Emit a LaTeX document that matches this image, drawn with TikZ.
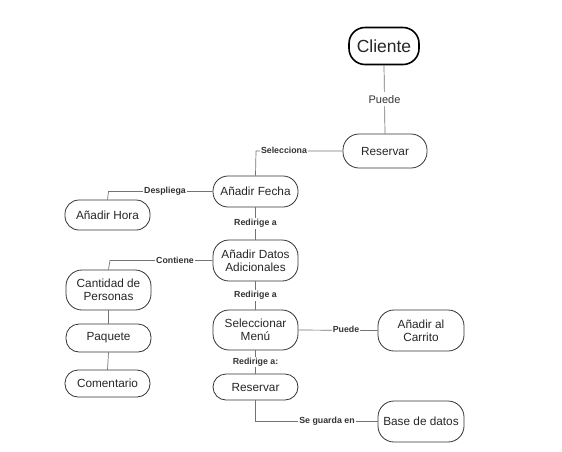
\documentclass[tikz,border=0pt]{standalone}
\usepackage{fontspec}
\setmainfont{Liberation Sans}
\begin{document}
\begin{tikzpicture}[x=1pt,y=-1pt,
  box/.style={draw=black!80,line width=0.8pt,rounded corners=13pt,align=center,font=\fontsize{11.8}{13}\selectfont,text=black!85,inner sep=0pt},
  lnk/.style={draw=black!55,line width=0.7pt},
  lab/.style={font=\bfseries\fontsize{8.8}{10}\selectfont,text=black!80,fill=white,inner sep=1pt}]
\useasboundingbox (0,0) rectangle (562,451);
\node[box,draw=black,line width=1.6pt,rounded corners=16pt,minimum width=70pt,minimum height=37pt,font=\fontsize{17.5}{19}\selectfont] (cli) at (384,46) {Cliente};
\node[box,minimum width=84pt,minimum height=34pt,rounded corners=16pt] (res1) at (385,151) {Reservar};
\node[box,minimum width=85pt,minimum height=31pt,rounded corners=15pt] (fecha) at (255.5,191.5) {Añadir Fecha};
\node[box,minimum width=85pt,minimum height=30pt,rounded corners=14pt] (hora) at (107.5,215) {Añadir Hora};
\node[box,minimum width=85pt,minimum height=41pt,rounded corners=16pt] (datos) at (255.5,260.5) {Añadir Datos\\Adicionales};
\node[box,minimum width=85pt,minimum height=40pt,rounded corners=16pt] (cant) at (108.5,290) {Cantidad de\\Personas};
\node[box,minimum width=85pt,minimum height=28pt,rounded corners=13pt] (paq) at (108.5,338) {Paquete};
\node[box,minimum width=85pt,minimum height=27pt,rounded corners=13pt] (com) at (107.5,383.5) {Comentario};
\node[box,minimum width=85pt,minimum height=40pt,rounded corners=16pt] (menu) at (255.5,330) {Seleccionar\\Menú};
\node[box,minimum width=86pt,minimum height=41pt,rounded corners=16pt] (carr) at (421,330.5) {Añadir al\\Carrito};
\node[box,minimum width=85pt,minimum height=26pt,rounded corners=13pt] (res2) at (255.5,387) {Reservar};
\node[box,minimum width=86pt,minimum height=41pt,rounded corners=16pt] (bd) at (421,421.5) {Base de datos};
% connectors
\draw[lnk] (cli.south) -- (res1.north) node[midway,lab,font=\fontsize{11}{12}\selectfont,fill=white,inner sep=3pt] {Puede};
\coordinate (c1) at (256,151);
\draw[lnk] (res1.west) -- (c1) -- (fecha.north);
\node[lab] at (284,150) {Selecciona};
\coordinate (c2) at (108.5,191.5);
\draw[lnk] (fecha.west) -- (c2) -- (hora.north);
\node[lab] at (165,191.5) {Despliega};
\draw[lnk] (fecha.south) -- (datos.north) node[midway,lab] {Redirige a};
\coordinate (c3) at (110,260.5);
\draw[lnk] (datos.west) -- (c3) -- (cant.north);
\node[lab] at (175,260) {Contiene};
\draw[lnk] (cant.south) -- (paq.north);
\draw[lnk] (paq.south) -- (com.north);
\draw[lnk] (datos.south) -- (menu.north) node[midway,lab] {Redirige a};
\draw[lnk] (menu.east) -- (carr.west);
\node[lab] at (346,329.5) {Puede};
\draw[lnk] (menu.south) -- (res2.north) node[midway,lab] {Redirige a:};
\coordinate (c4) at (255.5,421.5);
\draw[lnk] (res2.south) -- (c4) -- (bd.west);
\node[lab] at (327,421) {Se guarda en};
\end{tikzpicture}
\end{document}
